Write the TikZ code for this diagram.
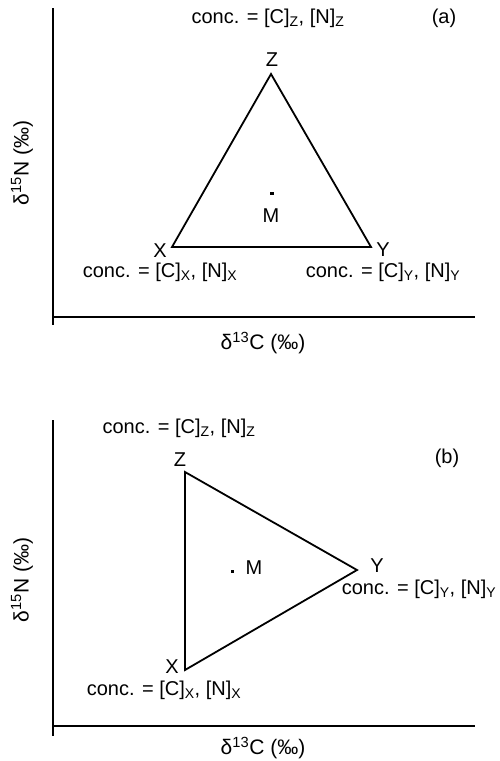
\documentclass[tikz,border=0pt]{standalone}
\usepackage{fontspec}
\setmainfont{Liberation Sans}
\usepackage{tikz}

\tikzset{
  lbl/.style={inner sep=1pt,font=\fontsize{20}{23}\selectfont},
  axlbl/.style={inner sep=1pt,font=\fontsize{21}{24}\selectfont},
  axis/.style={line width=2.4pt},
  tri/.style={line width=1.8pt,line join=miter}
}
\newcommand{\conc}[1]{conc. = [C]\textsubscript{#1}, [N]\textsubscript{#1}}

\begin{document}
\begin{tikzpicture}[x=1pt,y=-1pt]
\useasboundingbox (0,0) rectangle (499,761);
% panel (a)
\coordinate (aO) at (53,317);
\coordinate (aB) at (53,325);
\coordinate (aT) at (53,8);
\coordinate (aR) at (475,317);
\draw[axis] (aT) -- (aB);
\draw[axis] (aO) -- (aR);
\coordinate (aZ) at (271,74);
\coordinate (aX) at (172,247);
\coordinate (aY) at (371,247);
\draw[tri] (aX) -- (aZ) -- (aY) -- cycle;
\fill (270,191.5) rectangle ++(3.5,3.5) coordinate (aM);
\node[lbl] (aMl) at (271,216) {M};
\node[lbl] (aZl) at (272,60) {Z};
\node[lbl] (aXl) at (160,251) {X};
\node[lbl] (aYl) at (383,250) {Y};
\node[lbl] (aZc) at (268,18) {\conc{Z}};
\node[lbl] (aXc) at (160,272) {\conc{X}};
\node[lbl] (aYc) at (383,272) {\conc{Y}};
\node[lbl] (atag) at (444,18) {(a)};
\node[axlbl] (axl) at (263,343) {δ\textsuperscript{13}C (‰)};
\node[axlbl,rotate=90] (ayl) at (22,163) {δ\textsuperscript{15}N (‰)};
% panel (b)
\coordinate (bO) at (53,726);
\coordinate (bB) at (53,736);
\coordinate (bT) at (53,420);
\coordinate (bR) at (475,726);
\draw[axis] (bT) -- (bB);
\draw[axis] (bO) -- (bR);
\coordinate (bZ) at (185,472);
\coordinate (bY) at (357,570);
\coordinate (bX) at (185,670);
\draw[tri] (bX) -- (bZ) -- (bY) -- cycle;
\fill (230.5,569.5) rectangle ++(3.5,3.5) coordinate (bM);
\node[lbl] (bMl) at (254,568) {M};
\node[lbl] (bZl) at (180,460) {Z};
\node[lbl] (bYl) at (377,566) {Y};
\node[lbl] (bXl) at (172,667) {X};
\node[lbl] (bZc) at (179,428) {\conc{Z}};
\node[lbl] (bYc) at (419,589) {\conc{Y}};
\node[lbl] (bXc) at (164,690) {\conc{X}};
\node[lbl] (btag) at (447,458) {(b)};
\node[axlbl] (bxl) at (263,748) {δ\textsuperscript{13}C (‰)};
\node[axlbl,rotate=90] (byl) at (22,580) {δ\textsuperscript{15}N (‰)};
\end{tikzpicture}
\end{document}
